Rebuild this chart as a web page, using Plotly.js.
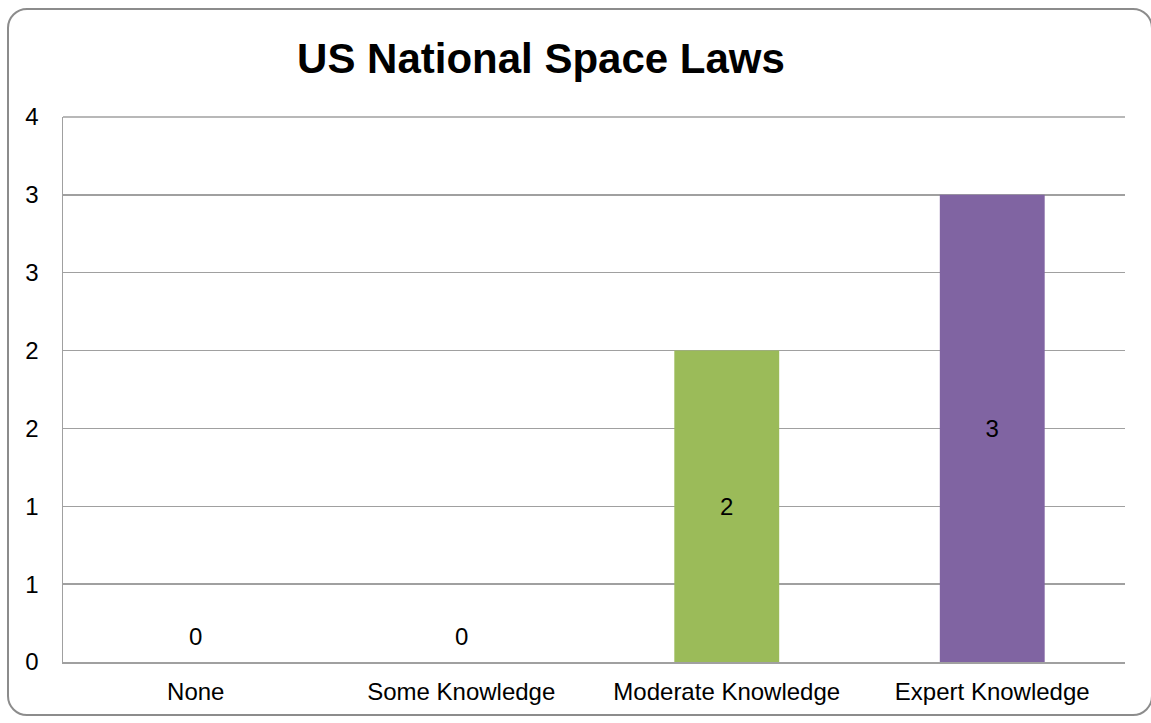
<!DOCTYPE html>
<html>
<head>
<meta charset="utf-8">
<script src="https://cdn.plot.ly/plotly-3.0.1.min.js"></script>
<style>
  html, body { margin: 0; padding: 0; background: #fff; }
  #wrap { position: relative; width: 1151px; height: 723px; overflow: hidden; }
  #chart { position: absolute; left: 0; top: 0; width: 1151px; height: 723px; }
  #frame { position: absolute; left: 7px; top: 8px; width: 1142px; height: 704px;
           border: 2px solid #8c8c8c; border-radius: 20px; pointer-events: none; }
</style>
</head>
<body>
<div id="wrap">
  <div id="chart"></div>
  <div id="frame"></div>
</div>
<script>
const categories = ["None", "Some Knowledge", "Moderate Knowledge", "Expert Knowledge"];
const counts = [0, 0, 2, 3];
const barColors = ["#4F81BD", "#C0504D", "#9BBB59", "#8064A2"];
const yTickVals = [0, 0.5, 1, 1.5, 2, 2.5, 3, 3.5];
const yTickText = ["0", "1", "1", "2", "2", "3", "3", "4"];

const fontFam = "Liberation Sans, Arial, sans-serif";

const trace = {
  type: "bar",
  x: categories,
  y: counts,
  marker: { color: barColors, line: { width: 0 } },
  text: counts.map(v => v === 0 ? "" : String(v)),
  textposition: "inside",
  insidetextanchor: "middle",
  textangle: 0,
  constraintext: "none",
  insidetextfont: { family: fontFam, size: 24, color: "#000" },
  hoverinfo: "x+y"
};

const zeroAnnotations = categories
  .map((c, i) => ({ c, v: counts[i] }))
  .filter(d => d.v === 0)
  .map(d => ({
    x: d.c, y: d.v, xref: "x", yref: "y",
    text: String(d.v), showarrow: false,
    yanchor: "middle", yshift: 26,
    font: { family: fontFam, size: 24, color: "#000" }
  }));

const layout = {
  width: 1151,
  height: 723,
  margin: { l: 63, r: 26, t: 117, b: 61 },
  paper_bgcolor: "#fff",
  plot_bgcolor: "#fff",
  showlegend: false,
  bargap: 0.605,
  font: { family: fontFam, size: 24, color: "#000" },
  title: {
    text: "<b>US National Space Laws</b>",
    font: { family: fontFam, size: 42, color: "#000" },
    x: 541 / 1151, xanchor: "center", xref: "container",
    y: 1 - 58 / 723, yanchor: "middle", yref: "container"
  },
  xaxis: {
    type: "category",
    showgrid: false,
    showline: true, linecolor: "#a0a0a0", linewidth: 1.5,
    ticks: "", ticklabelstandoff: 8,
    tickfont: { family: fontFam, size: 24, color: "#000" },
    fixedrange: true
  },
  yaxis: {
    range: [0, 3.5],
    tickmode: "array",
    tickvals: yTickVals,
    ticktext: yTickText,
    showgrid: true, gridcolor: "#a0a0a0", gridwidth: 1.5,
    showline: true, linecolor: "#a0a0a0", linewidth: 1.5,
    zeroline: false,
    ticks: "", ticklabelstandoff: 18,
    tickfont: { family: fontFam, size: 24, color: "#000" },
    fixedrange: true
  },
  shapes: [{
    type: "line", xref: "paper", yref: "paper",
    x0: 0, x1: 1, y0: 1, y1: 1,
    line: { color: "#a0a0a0", width: 1.5 }
  }],
  annotations: zeroAnnotations
};

Plotly.newPlot("chart", [trace], layout, { displayModeBar: false, staticPlot: true });
</script>
</body>
</html>
